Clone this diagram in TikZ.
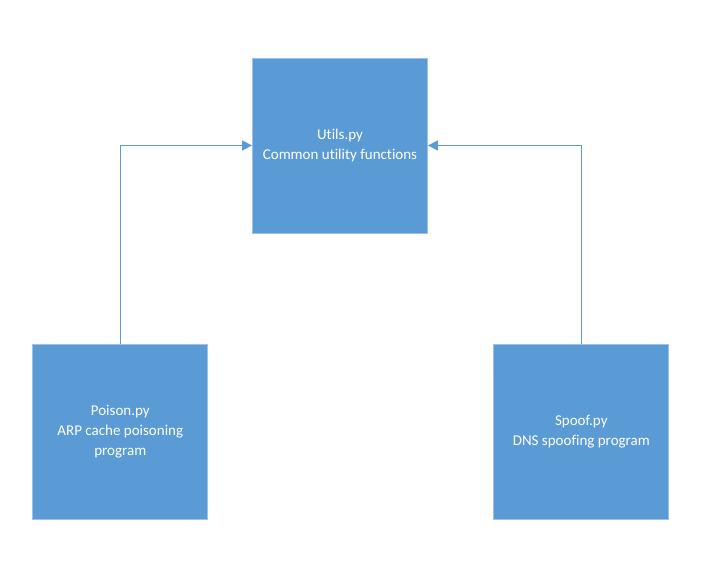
\documentclass[tikz,border=0pt]{standalone}
\usepackage{fontspec}
\setmainfont[Ligatures=NoCommon]{Carlito}
\usetikzlibrary{arrows.meta,shadows}
\definecolor{boxblue}{HTML}{5B9BD5}
\definecolor{boxedge}{HTML}{9DC0E6}
\definecolor{linkblue}{HTML}{5B9BD5}
\begin{document}
\begin{tikzpicture}[x=1pt,y=-1pt,
  module/.style={rectangle, fill=boxblue, draw=boxedge, line width=0.8pt,
    minimum width=175pt, minimum height=175pt, inner sep=0pt,
    text=white, align=center, font=\fontsize{15}{20}\selectfont,
    drop shadow={shadow xshift=0.6pt, shadow yshift=-1.2pt, fill=black!35, opacity=0.35}},
  link/.style={draw=linkblue, line width=1.5pt, -{Triangle[length=10pt,width=10pt]}}]
\useasboundingbox (0,0) rectangle (725,578);
\node[module] (utils) at (340,145.5) {Utils.py\\Common utility functions};
\node[module] (poison) at (120.3,431.5) {Poison.py\\ARP cache poisoning\\program};
\node[module] (spoof) at (581.3,431.5) {Spoof.py\\DNS spoofing program};
\draw[link] (poison.north) |- (utils.west);
\draw[link] (spoof.north) |- (utils.east);
\end{tikzpicture}
\end{document}
